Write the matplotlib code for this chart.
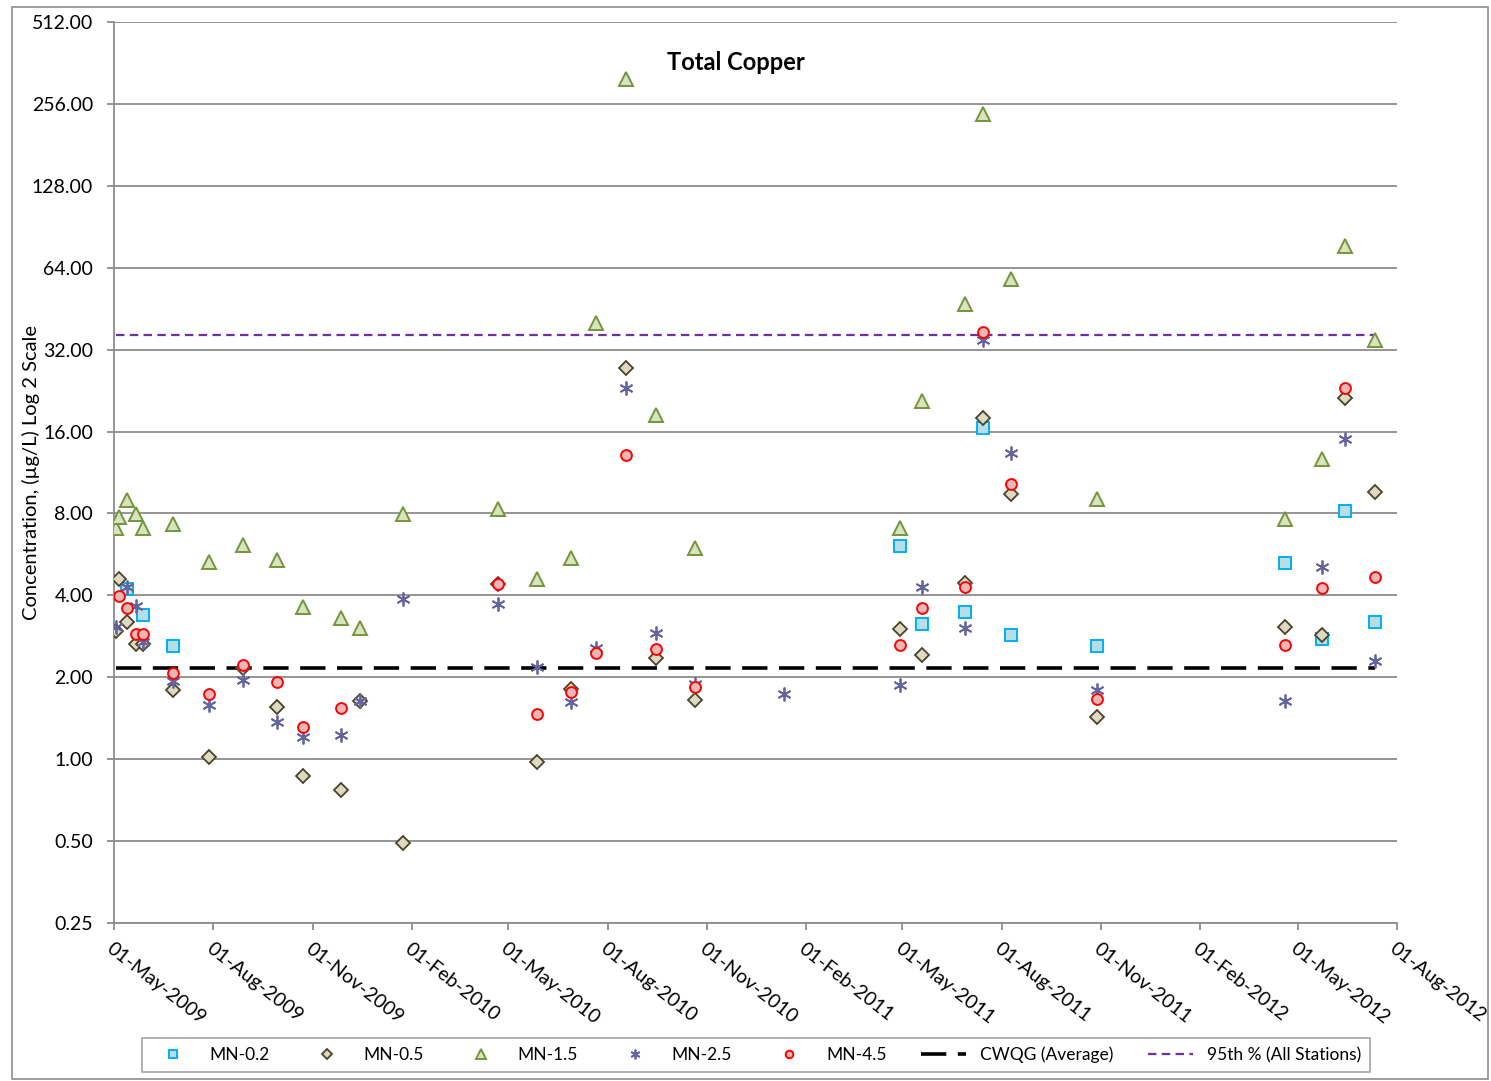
import pandas as pd
import numpy as np
import matplotlib
matplotlib.use('Agg')
from matplotlib import pyplot as plt
import matplotlib.dates as mdates
from matplotlib.ticker import FixedLocator, FuncFormatter
from matplotlib.patches import Rectangle

plt.rcParams['font.family'] = ['Lato', 'DejaVu Sans']

# sampling dates and values (ug/L)
mn02_dates = ['2009-05-13', '2009-05-28', '2009-06-25', '2011-04-29', '2011-05-19',
              '2011-06-28', '2011-07-15', '2011-08-10', '2011-10-28', '2012-04-19',
              '2012-05-24', '2012-06-14', '2012-07-12']
mn02_vals = [4.21, 3.38, 2.60, 6.06, 3.13, 3.47, 16.45, 2.85, 2.60, 5.25, 2.76, 8.15, 3.19]

mn05_dates = ['2009-05-03', '2009-05-06', '2009-05-13', '2009-05-21', '2009-05-28',
              '2009-06-25', '2009-07-28', '2009-08-28', '2009-09-29', '2009-10-23',
              '2009-11-27', '2009-12-15', '2010-01-24', '2010-04-22', '2010-05-28',
              '2010-06-28', '2010-08-18', '2010-09-15', '2010-10-21', '2011-04-29',
              '2011-05-19', '2011-06-28', '2011-07-15', '2011-08-10', '2011-10-28',
              '2012-04-19', '2012-05-24', '2012-06-14', '2012-07-12']
mn05_vals = [2.95, 4.58, 3.19, 2.64, 2.64, 1.79, 1.02, 2.16, 1.55, 0.87,
             0.77, 1.63, 0.49, 4.39, 0.98, 1.81, 27.3, 2.35, 1.65, 3.00,
             2.41, 4.43, 17.9, 9.41, 1.43, 3.05, 2.85, 21.2, 9.57]

mn15_dates = ['2009-05-03', '2009-05-06', '2009-05-13', '2009-05-21', '2009-05-28',
              '2009-06-25', '2009-07-28', '2009-08-28', '2009-09-29', '2009-10-23',
              '2009-11-27', '2009-12-15', '2010-01-24', '2010-04-22', '2010-05-28',
              '2010-06-28', '2010-07-21', '2010-08-18', '2010-09-15', '2010-10-21',
              '2011-04-29', '2011-05-19', '2011-06-28', '2011-07-15', '2011-08-10',
              '2011-10-28', '2012-04-19', '2012-05-24', '2012-06-14', '2012-07-12']
mn15_vals = [7.06, 7.75, 8.95, 7.95, 7.06, 7.30, 5.29, 6.11, 5.38, 3.62,
             3.29, 3.03, 7.95, 8.29, 4.58, 5.48, 40.0, 315.0, 18.4, 5.96,
             7.06, 20.7, 47.0, 234.6, 58.1, 9.02, 7.62, 12.66, 76.8, 34.7]

mn25_dates = ['2009-05-03', '2009-05-13', '2009-05-21', '2009-05-28', '2009-06-25',
              '2009-07-28', '2009-08-28', '2009-09-29', '2009-10-23', '2009-11-27',
              '2009-12-15', '2010-01-24', '2010-04-22', '2010-05-28', '2010-06-28',
              '2010-07-21', '2010-08-18', '2010-09-15', '2010-10-21', '2011-01-11',
              '2011-04-29', '2011-05-19', '2011-06-28', '2011-07-15', '2011-08-10',
              '2011-10-28', '2012-04-19', '2012-05-24', '2012-06-14', '2012-07-12']
mn25_vals = [3.05, 4.28, 3.65, 2.69, 1.93, 1.58, 1.95, 1.37, 1.21, 1.23,
             1.63, 3.87, 3.71, 2.18, 1.62, 2.56, 23.1, 2.90, 1.89, 1.73,
             1.87, 4.28, 3.03, 34.7, 13.3, 1.79, 1.63, 5.07, 15.0, 2.29]

mn45_dates = ['2009-05-06', '2009-05-13', '2009-05-21', '2009-05-28', '2009-06-25',
              '2009-07-28', '2009-08-28', '2009-09-29', '2009-10-23', '2009-11-27',
              '2010-04-22', '2010-05-28', '2010-06-28', '2010-07-21', '2010-08-18',
              '2010-09-15', '2010-10-21', '2011-04-29', '2011-05-19', '2011-06-28',
              '2011-07-15', '2011-08-10', '2011-10-28', '2012-04-19', '2012-05-24',
              '2012-06-14', '2012-07-12']
mn45_vals = [3.97, 3.59, 2.88, 2.88, 2.07, 1.73, 2.21, 1.92, 1.31, 1.54,
             4.39, 1.47, 1.76, 2.45, 13.1, 2.53, 1.84, 2.62, 3.59, 4.28,
             37.1, 10.25, 1.66, 2.62, 4.25, 23.1, 4.66]

cwqg_avg = 2.16
pct95 = 36.3
line_span = ['2009-05-03', '2012-07-12']

y_ticks = [0.25, 0.5, 1, 2, 4, 8, 16, 32, 64, 128, 256, 512]

fig = plt.figure(figsize=(14.91, 10.81), dpi=100)
ax = fig.add_axes([114 / 1491, 1 - 923 / 1081, (1397 - 114) / 1491, (923 - 22) / 1081])

# outer chart border
fig.patches.append(Rectangle((12 / 1491, 2 / 1081), 1476 / 1491, 1072 / 1081,
                             transform=fig.transFigure, fill=False,
                             edgecolor='#8c8c8c', lw=1.2))

series = [
    ('MN-0.2', mn02_dates, mn02_vals, dict(marker='s', ms=9, mfc='#b7dee8', mec='#00b0f0', mew=1.4)),
    ('MN-0.5', mn05_dates, mn05_vals, dict(marker='D', ms=7.3, mfc='#ddd9c3', mec='#494429', mew=1.3)),
    ('MN-1.5', mn15_dates, mn15_vals, dict(marker='^', ms=10, mfc='#d7e4bd', mec='#77933c', mew=1.4)),
    ('MN-2.5', mn25_dates, mn25_vals, dict(marker=(6, 2, 0), ms=10, mec='#6464a0', mew=1.3)),
    ('MN-4.5', mn45_dates, mn45_vals, dict(marker='o', ms=7.8, mfc='#e6b9b8', mec='#ff0000', mew=1.4)),
]

handles = []
for name, d, v, style in series:
    h, = ax.plot(pd.to_datetime(d), v, ls='none', label=name, zorder=3, **style)
    handles.append(h)

span = pd.to_datetime(line_span)
h1, = ax.plot(span, [cwqg_avg, cwqg_avg], color='black', lw=2.6, dashes=(7, 3.2),
              label='CWQG (Average)', zorder=2)
h2, = ax.plot(span, [pct95, pct95], color='#7030a0', lw=1.6, dashes=(3.8, 2.4),
              label='95th % (All Stations)', zorder=2)
handles += [h1, h2]

ax.set_yscale('log', base=2)
ax.set_ylim(0.25, 512)
ax.yaxis.set_major_locator(FixedLocator(y_ticks))
ax.yaxis.set_minor_locator(FixedLocator([]))
ax.yaxis.set_major_formatter(FuncFormatter(lambda v, p: '%.2f' % v))
ax.grid(axis='y', color='#8c8c8c', lw=1.3)
ax.set_axisbelow(True)

ax.set_xlim(pd.Timestamp('2009-05-01'), pd.Timestamp('2012-08-01'))
ax.xaxis.set_major_locator(mdates.MonthLocator(bymonth=[2, 5, 8, 11], bymonthday=1))
ax.xaxis.set_major_formatter(mdates.DateFormatter('%d-%b-%Y'))

for s in ['top', 'right']:
    ax.spines[s].set_visible(False)
for s in ['left', 'bottom']:
    ax.spines[s].set_color('#8c8c8c')
    ax.spines[s].set_linewidth(1.3)
ax.tick_params(axis='both', colors='#8c8c8c', length=5, width=1.3, labelcolor='black')
ax.tick_params(axis='y', pad=10, labelsize=14)
ax.tick_params(axis='x', pad=7, labelsize=14)
for lab in ax.get_xticklabels():
    lab.set_rotation(-38)
    lab.set_ha('left')
    lab.set_va('top')
    lab.set_rotation_mode('anchor')

ax.set_ylabel('Concentration, (µg/L) Log 2 Scale', fontsize=14.5)
ax.yaxis.set_label_coords(-0.058, 0.5)
ax.text(0.485, 0.955, 'Total Copper', transform=ax.transAxes, ha='center', va='center',
        fontsize=17, fontweight='bold')

leg = fig.legend(handles=handles, loc='center', ncol=7,
                 bbox_to_anchor=(756 / 1491, 1 - 1055 / 1081), fontsize=12.5,
                 frameon=True, fancybox=False, edgecolor='#8c8c8c',
                 columnspacing=2.0, handlelength=2.6, markerscale=0.7,
                 borderpad=0.5)
leg.get_frame().set_linewidth(1.2)

plt.savefig('out.png', dpi=100)
plt.close()
